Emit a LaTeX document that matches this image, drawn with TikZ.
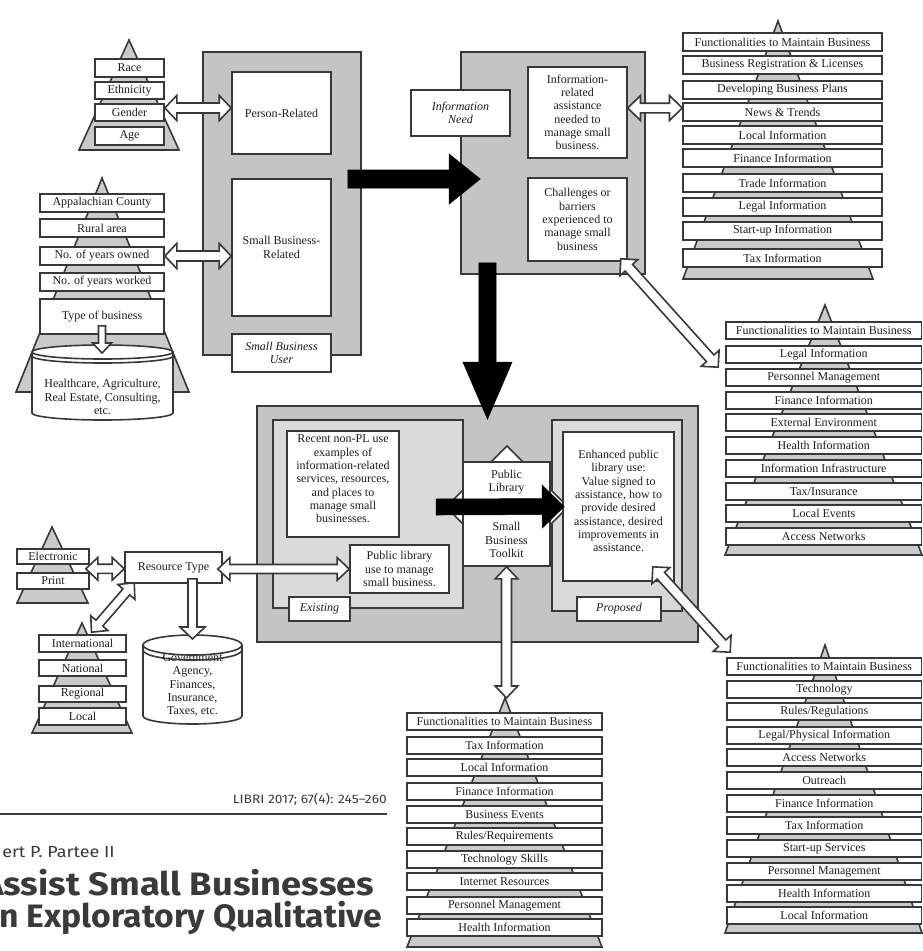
\documentclass[tikz,border=0pt]{standalone}
\usepackage{fontspec}
\setmainfont{Liberation Serif}
\newfontfamily\headfont[FakeStretch=1.12]{Fira Sans}
\newfontfamily\headfontb[FakeStretch=1.04]{Fira Sans}
\usetikzlibrary{calc,fit}

\definecolor{edge}{HTML}{383838}
\definecolor{panel}{HTML}{C4C4C4}
\definecolor{panellight}{HTML}{DADADA}
\definecolor{pyrfill}{HTML}{CACACA}
\definecolor{inkc}{HTML}{1E1E1E}
\definecolor{headc}{HTML}{3A3A3A}

\tikzset{
  base/.style={draw=edge, line width=1.2pt},
  wbox/.style={base, fill=white, inner sep=0pt},
  gbox/.style={base, fill=panel, inner sep=0pt},
  lbox/.style={base, fill=panellight, inner sep=0pt},
  ital/.style={wbox},
  txt/.style={inner sep=0pt, align=center, text=inkc, font=\fontsize{9}{10}\selectfont},
  wbox text/.style={},
  gbox text/.style={},
  lbox text/.style={},
  ital text/.style={font=\fontsize{9}{10}\selectfont\itshape},
  pyr/.style={base, fill=pyrfill},
  hollowarrow/.style={base, fill=white, line join=miter},
  solidarrow/.style={fill=black, draw=black, line width=0.4pt, line join=miter},
}

% rectangle node spanning two pixel corners, with its text centred inside
\newcommand{\mkbox}[7][wbox]{%
  \node[#1, fit={(#3,#4)(#5,#6)}] (#2) {};
  \node[txt, #1 text] at (#2.center) {#7};}

% double-headed block arrow: ends, head length, head half width, shaft half width
\newcommand{\twoway}[5]{%
  \coordinate (tw-a) at #1; \coordinate (tw-b) at #2;
  \coordinate (tw-a1) at ($(tw-a)!#3!(tw-b)$);
  \coordinate (tw-b1) at ($(tw-b)!#3!(tw-a)$);
  \filldraw[hollowarrow] (tw-a) -- ($(tw-a1)!#4!90:(tw-b)$) -- ($(tw-a1)!#5!90:(tw-b)$)
    -- ($(tw-b1)!#5!-90:(tw-a)$) -- ($(tw-b1)!#4!-90:(tw-a)$) -- (tw-b)
    -- ($(tw-b1)!#4!90:(tw-a)$) -- ($(tw-b1)!#5!90:(tw-a)$)
    -- ($(tw-a1)!#5!-90:(tw-b)$) -- ($(tw-a1)!#4!-90:(tw-b)$) -- cycle;}

% single-headed block arrow: tail, tip, head length, head half width, shaft half width
\newcommand{\blockarrow}[6][hollowarrow]{%
  \coordinate (ow-a) at #2; \coordinate (ow-b) at #3;
  \coordinate (ow-b1) at ($(ow-b)!#4!(ow-a)$);
  \filldraw[#1] ($(ow-a)!#6!90:(ow-b)$) -- ($(ow-b1)!#6!-90:(ow-a)$) -- ($(ow-b1)!#5!-90:(ow-a)$)
    -- (ow-b) -- ($(ow-b1)!#5!90:(ow-a)$) -- ($(ow-b1)!#6!90:(ow-a)$)
    -- ($(ow-a)!#6!-90:(ow-b)$) -- cycle;}

% one row of a functionality stack
\newcommand{\stackrow}[6]{%
  \node[wbox, fit={(#2,#4)(#3,#4+#5)}] (#1) {};
  \node[txt] at (#1.center) {#6};}

\begin{document}
\begin{tikzpicture}[x=0.75pt,y=-0.75pt]
\useasboundingbox[fill=white] (0,0) rectangle (923,951);

% ---------- personal attributes
\filldraw[pyr] (129,40) -- (79,150) -- (179,150) -- cycle;
\mkbox{race}{95}{59}{164}{77}{Race}
\mkbox{eth}{95}{82}{164}{99}{Ethnicity}
\mkbox{gender}{95}{104}{164}{121}{Gender}
\mkbox{age}{95}{127}{164}{145}{Age}

% ---------- business attributes
\filldraw[pyr] (102,178) -- (16,392) -- (189,392) -- cycle;
\mkbox{appal}{40}{194}{164}{212}{Appalachian County}
\mkbox{rural}{40}{219}{164}{237}{Rural area}
\mkbox{owned}{40}{247}{164}{265}{No. of years owned}
\mkbox{worked}{40}{273}{164}{291}{No. of years worked}
\mkbox{btype}{40}{299}{164}{334}{Type of business}

% business-type cylinder
\fill[white] (32,352) rectangle (173,413);
\fill[white] (102.5,413) ellipse[x radius=52.875pt, y radius=5.25pt];
\draw[base] (32,352) -- (32,413) arc[start angle=180, end angle=360, x radius=52.875pt, y radius=5.25pt] -- (173,352);
\filldraw[base, fill=white] (102.5,352) ellipse[x radius=52.875pt, y radius=5.25pt];
\draw[base] (32,356) arc[start angle=180, end angle=360, x radius=52.875pt, y radius=5.25pt];
\node[txt] (cyl1) at (102.5,397) {Healthcare, Agriculture,\\Real Estate, Consulting,\\etc.};
\coordinate (hcyl) at (102,353);

% ---------- small business user
\mkbox[gbox]{sbuser}{203}{52}{361}{355}{}
\mkbox{person}{232}{72}{331}{154}{Person-Related}
\mkbox{sbrel}{232}{179}{331}{316}{Small Business-\\Related}
\mkbox[ital]{sbulabel}{232}{334}{331}{372}{Small Business\\User}

% ---------- information need
\mkbox[gbox]{infoneed}{461}{52}{645}{274}{}
\mkbox{inforel}{528}{67}{627}{158}{Information-\\related\\assistance\\needed to\\manage small\\business.}
\mkbox{chall}{528}{178}{627}{261}{Challenges or\\barriers\\experienced to\\manage small\\business}
\mkbox[ital]{inlabel}{411}{90}{510}{136}{Information\\Need}

% ---------- functionality stacks
\filldraw[pyr] (778,21) -- (683,279) -- (873,279) -- cycle;
\foreach \t/\lab [count=\i] in {33/Functionalities to Maintain Business,
    56/Business Registration \& Licenses, 81/Developing Business Plans,
    103/News \& Trends, 126/Local Information, 149/Finance Information,
    174/Trade Information, 198/Legal Information, 222/Start-up Information,
    249/Tax Information}
  {\stackrow{tr\i}{683}{882}{\t}{18}{\lab}}

\filldraw[pyr] (825,305) -- (725,555) -- (922,555) -- cycle;
\foreach \t/\lab [count=\i] in {322/Functionalities to Maintain Business,
    346/Legal Information, 369/Personnel Management, 392/Finance Information,
    414/External Environment, 437/Health Information,
    460/Information Infrastructure, 483/{Tax/Insurance}, 505/Local Events,
    528/Access Networks}
  {\stackrow{mr\i}{726}{921.5}{\t}{17}{\lab}}

\filldraw[pyr] (505,698) -- (407,947) -- (602,947) -- cycle;
\coordinate (bmtop) at (505,698);
\foreach \t/\lab [count=\i] in {713/Functionalities to Maintain Business,
    737/Tax Information, 759/Local Information, 783/Finance Information,
    806/Business Events, 828/{Rules/Requirements}, 851/Technology Skills,
    873/Internet Resources, 897/Personnel Management, 919/Health Information}
  {\stackrow{bm\i}{407}{602}{\t}{17}{\lab}}

\filldraw[pyr] (825,645) -- (725,933) -- (922,933) -- cycle;
\foreach \t/\lab [count=\i] in {658/Functionalities to Maintain Business,
    681/Technology, 703/{Rules/Regulations}, 727/{Legal/Physical Information},
    749/Access Networks, 772/Outreach, 795/Finance Information,
    817/Tax Information, 840/Start-up Services, 863/Personnel Management,
    885/Health Information, 907/Local Information}
  {\stackrow{br\i}{727}{921.5}{\t}{17}{\lab}}

% ---------- public library panel
\mkbox[gbox]{plouter}{257}{406}{698}{642}{}
\mkbox[lbox]{exist}{273}{420}{463}{608}{}
\mkbox[lbox]{prop}{552}{420}{682}{611}{}
\filldraw[base, fill=white] (507,446) -- (568,507) -- (507,568) -- (446,507) -- cycle;
\mkbox{recent}{287}{431}{399}{537}{}
\node[txt] at (343,479) {Recent non-PL use\\examples of\\information-related\\services, resources,\\and places to\\manage small\\businesses.};
\mkbox{pluse}{350}{545}{449}{593}{Public library\\use to manage\\small business.}
\mkbox[ital]{existlabel}{289}{597}{350}{621}{Existing}
\mkbox{enh}{563}{432}{674}{581}{}
\node[txt] at (618.5,501) {Enhanced public\\library use:\\Value signed to\\assistance, how to\\provide desired\\assistance, desired\\improvements in\\assistance.};
\mkbox[ital]{proplabel}{577}{597}{661}{621}{Proposed}
\mkbox{cbox}{463}{462}{550}{566}{}
\node[txt] at (506.5,482) {Public\\Library};
\node[txt] at (506.5,540) {Small\\Business\\Toolkit};

% ---------- resource type
\filldraw[pyr] (52,527) -- (17,603) -- (88,603) -- cycle;
\mkbox{elec}{17}{549}{89}{564}{Electronic}
\mkbox{print}{17}{573}{89}{589}{Print}
\mkbox{restype}{125}{552}{222}{583}{Resource Type}
\filldraw[pyr] (82,623) -- (32,733) -- (132,733) -- cycle;
\mkbox{intl}{39}{635}{126}{652}{International}
\mkbox{natl}{39}{660}{126}{676}{National}
\mkbox{regl}{39}{686}{126}{702}{Regional}
\mkbox{local}{39}{708}{126}{725}{Local}

% government cylinder
\fill[white] (143,645) rectangle (242,716);
\fill[white] (192.5,716) ellipse[x radius=37.125pt, y radius=6pt];
\fill[white] (192.5,645) ellipse[x radius=37.125pt, y radius=7.5pt];
\node[txt] (gov) at (192.5,685) {Government\\Agency,\\Finances,\\Insurance,\\Taxes, etc.};
\draw[base] (143,645) -- (143,716) arc[start angle=180, end angle=360, x radius=37.125pt, y radius=6pt] -- (242,645);
\draw[base] (192.5,645) ellipse[x radius=37.125pt, y radius=7.5pt];
\draw[base] (143,650) arc[start angle=180, end angle=360, x radius=37.125pt, y radius=7.5pt];
\coordinate (gcyl) at (192.5,639);

% ---------- hollow connectors
\twoway{($(gender.east)+(0,-4.5)$)}{($(person.west |- gender.east)+(0,-4.5)$)}{9pt}{9.4pt}{3.75pt}
\twoway{(owned.east)}{(owned.east -| sbrel.west)}{9pt}{9.4pt}{3.75pt}
\twoway{($(inforel.east |- tr4.west)+(0,-4)$)}{($(tr4.west)+(0,-4)$)}{9.5pt}{9.4pt}{3.6pt}
\twoway{($(chall.south east)+(-7,-3)$)}{($(mr3.north west)+(-7,-1)$)}{9pt}{9pt}{3.75pt}
\twoway{(cbox.south)}{(cbox.south |- bmtop)}{9pt}{8.5pt}{3.75pt}
\twoway{($(enh.south east)+(-22,-15)$)}{($(br1.north west)+(4,-5)$)}{9pt}{9pt}{3.75pt}
\twoway{($(restype.east |- pluse.west)+(-5,0)$)}{(pluse.west)}{9pt}{8.5pt}{3.4pt}
\twoway{($(elec.south east)+(-4,4)$)}{($(restype.west |- elec.south east)+(0,4)$)}{9pt}{8.5pt}{3.4pt}
\twoway{($(intl.north)+(9,-2)$)}{($(restype.south west)+(10,-1)$)}{9pt}{8.5pt}{3.4pt}
\blockarrow{($(btype.south)+(0,-9)$)}{(hcyl)}{7.5pt}{7.1pt}{2.6pt}
\blockarrow{($(restype.south -| gcyl)+(0,-5)$)}{(gcyl)}{9pt}{9.4pt}{3.4pt}

% ---------- solid flow arrows
\blockarrow[solidarrow]{($(sbuser.east)+(-14,-24.5)$)}{($(infoneed.west)+(20,16)$)}{23.25pt}{18.75pt}{6.75pt}
\blockarrow[solidarrow]{($(infoneed.south)+(-65.5,-12)$)}{($(plouter.north)+(10,14)$)}{42.75pt}{18.4pt}{6.4pt}
\blockarrow[solidarrow]{($(cbox.west)+(-26,-7)$)}{($(enh.west)+(2,0)$)}{16.5pt}{16.1pt}{6pt}

% ---------- journal header
\node[anchor=base east, inner sep=0pt, text=headc, font=\headfont\fontsize{9.2}{11}\selectfont] (libri) at (387,803) {LIBRI 2017; 67(4): 245–260};
\draw[headc, line width=1.1pt] (0,814) -- (libri.east |- 0,814);
\node[anchor=base west, inner sep=0pt, text=headc, font=\headfont\fontsize{12}{14}\selectfont] (author) at (2,857) {ert P. Partee II};
\node[anchor=base west, inner sep=0pt, text=headc, font=\headfont\bfseries\fontsize{24.3}{28}\selectfont] (title1) at (-18,895) {Assist Small Businesses};
\node[anchor=base west, inner sep=0pt, text=headc, font=\headfontb\bfseries\fontsize{24.3}{28}\selectfont] (title2) at (-1,927) {n Exploratory Qualitative};
\end{tikzpicture}
\end{document}
